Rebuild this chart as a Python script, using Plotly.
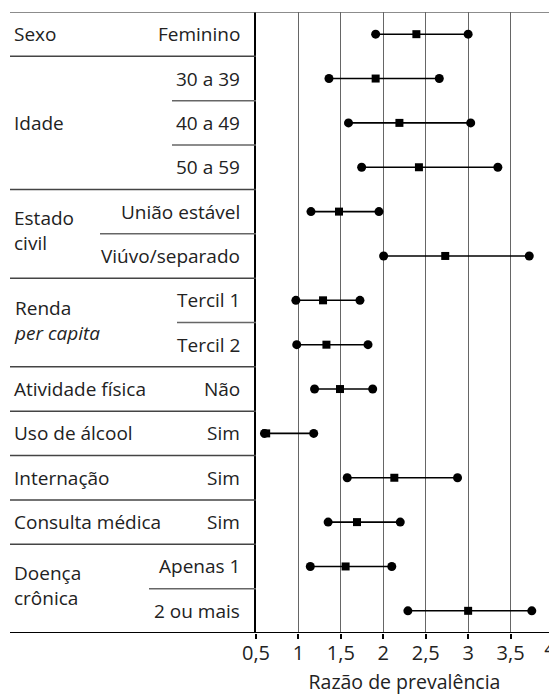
import plotly.graph_objects as go

# ---- data ----
sub_labels = ["Feminino", "30 a 39", "40 a 49", "50 a 59", "União estável", "Viúvo/separado",
              "Tercil 1", "Tercil 2", "Não", "Sim", "Sim", "Sim", "Apenas 1", "2 ou mais"]
group_labels = [("Sexo", 0, 0), ("Idade", 2, 2), ("Estado<br>civil", 4, 5),
                ("Renda<br><i>per capita</i>", 6, 7), ("Atividade física", 8, 8),
                ("Uso de álcool", 9, 9), ("Internação", 10, 10), ("Consulta médica", 11, 11),
                ("Doença<br>crônica", 12, 13)]
lower = [1.91, 1.36, 1.59, 1.745, 1.148, 2.004, 0.97, 0.98, 1.19, 0.60, 1.575, 1.35, 1.14, 2.29]
point = [2.39, 1.91, 2.19, 2.42, 1.478, 2.73, 1.29, 1.33, 1.49, 0.62, 2.13, 1.69, 1.556, 3.00]
upper = [3.00, 2.66, 3.03, 3.35, 1.949, 3.72, 1.725, 1.82, 1.875, 1.18, 2.875, 2.20, 2.10, 3.75]
tick_vals = [0.5, 1, 1.5, 2, 2.5, 3, 3.5, 4]
tick_text = ["0,5", "1", "1,5", "2", "2,5", "3", "3,5", "4"]
full_seps = [0.5, 3.5, 5.5, 7.5, 8.5, 9.5, 10.5, 11.5]
partial_seps = [(1.5, 172), (2.5, 172), (4.5, 100), (6.5, 177), (12.5, 149)]

OFF = 8  # page body margin
W, H = 557 - OFF, 698 - OFF
ML, MR, MT, MB = 10 - OFF, 557 - 553, 12 - OFF, 698 - 633
PW = W - ML - MR
split = (256 - 10) / PW
FONT = "Open Sans"
LSIZE = 19

rows = list(range(len(point)))
fig = go.Figure()

lx, ly = [], []
for r, lo, hi in zip(rows, lower, upper):
    lx += [lo, hi, None]
    ly += [r, r, None]
fig.add_trace(go.Scatter(x=lx, y=ly, mode="lines", line=dict(color="black", width=1.6),
                         hoverinfo="skip", showlegend=False))
fig.add_trace(go.Scatter(x=lower + upper, y=rows + rows, mode="markers",
                         marker=dict(symbol="circle", size=9, color="black"), showlegend=False))
fig.add_trace(go.Scatter(x=point, y=rows, mode="markers",
                         marker=dict(symbol="square", size=8, color="black"), showlegend=False))
# invisible trace so the overlay axis (last tick label) is drawn
fig.add_trace(go.Scatter(x=[point[-1]], y=[rows[-1]], xaxis="x3", mode="markers",
                         marker=dict(opacity=0), hoverinfo="skip", showlegend=False))

ann = []
for r, t in zip(rows, sub_labels):
    ann.append(dict(x=242 - 10, y=r, xref="x2", yref="y", text=t, showarrow=False,
                    xanchor="right", yanchor="middle", font=dict(family=FONT, size=LSIZE, color="#222")))
shift = {"Estado<br>civil": -0.07, "Renda<br><i>per capita</i>": -0.05, "Doença<br>crônica": -0.08}
for t, r0, r1 in group_labels:
    y = (r0 + r1) / 2 + shift.get(t, 0)
    ann.append(dict(x=12 - 10, y=y, xref="x2", yref="y", text=t, showarrow=False,
                    xanchor="left", yanchor="middle", align="left",
                    font=dict(family=FONT, size=LSIZE, color="#222")))

shapes = []
for y in full_seps:
    shapes.append(dict(type="line", xref="paper", yref="y", x0=0, x1=split, y0=y, y1=y,
                       line=dict(color="#444", width=1.5)))
for y, px in partial_seps:
    shapes.append(dict(type="line", xref="x2", yref="y", x0=px - 10, x1=246, y0=y, y1=y,
                       line=dict(color="#666", width=1.5)))
shapes.append(dict(type="line", xref="paper", yref="y", x0=0, x1=1, y0=-0.5, y1=-0.5,
                   line=dict(color="#666", width=1.5)))
shapes.append(dict(type="line", xref="paper", yref="paper", x0=1, x1=1, y0=0, y1=1,
                   line=dict(color="#666", width=1.5)))
shapes.append(dict(type="line", xref="paper", yref="y", x0=0, x1=1, y0=13.5, y1=13.5,
                   line=dict(color="black", width=2.2)))

tickfont = dict(family=FONT, size=20, color="#222")
fig.update_layout(
    width=W, height=H, margin=dict(l=ML, r=MR, t=MT, b=MB, autoexpand=False),
    plot_bgcolor="white", paper_bgcolor="white",
    font=dict(family=FONT, color="#222"),
    xaxis=dict(domain=[split, 1], range=[0.5, 4], tickvals=tick_vals,
               ticktext=tick_text[:-1] + [""],
               showgrid=True, gridcolor="#666", gridwidth=1.3, zeroline=False, automargin=False,
               ticks="outside", ticklen=5, tickcolor="black", tickwidth=1.5, showline=False,
               ticklabelstandoff=-3, tickfont=tickfont,
               title=dict(text="Razão de prevalência", font=dict(family=FONT, size=19.5, color="#222"),
                          standoff=10)),
    xaxis3=dict(domain=[split, 1], range=[0.5, 4], overlaying="x", anchor="y", side="bottom",
                tickvals=tick_vals[-1:], ticktext=tick_text[-1:], ticks="", showgrid=False,
                zeroline=False, showline=False, automargin=False, ticklabelshift=-3,
                ticklabelstandoff=2, ticklabeloverflow="allow", tickfont=tickfont),
    xaxis2=dict(domain=[0, split], range=[0, 246], visible=False, anchor="y"),
    yaxis=dict(range=[13.5, -0.5], showticklabels=False, showgrid=False, zeroline=False,
               showline=True, linecolor="black", linewidth=2.2, anchor="x", ticks="",
               automargin=False),
    annotations=ann, shapes=shapes,
)

fig.write_html("out.html")
